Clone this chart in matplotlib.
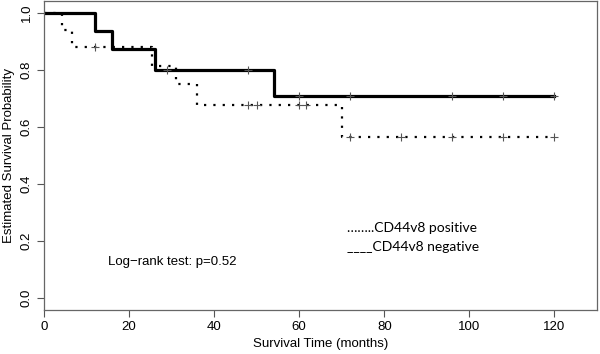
import numpy as np
import matplotlib
matplotlib.use("Agg")
import matplotlib.pyplot as plt

# Kaplan-Meier steps
neg_time = [0, 12, 16, 26, 54, 120]
neg_surv = [1.0, 0.9375, 0.875, 0.80, 0.71, 0.71]
neg_cens = [29, 48, 60, 72, 96, 108, 120]

pos_time = [0, 4.3, 6.6, 25.5, 31, 36, 70, 120]
pos_surv = [1.0, 0.94, 0.882, 0.815, 0.75, 0.677, 0.565, 0.565]
pos_cens = [12, 48, 50, 60, 61.5, 72, 84, 96, 108, 120]

xticks = [0, 20, 40, 60, 80, 100, 120]
yticks = [0.0, 0.2, 0.4, 0.6, 0.8, 1.0]


def surv_at(times, surv, t):
    i = np.searchsorted(times, t, side="right") - 1
    return surv[i]


plt.rcParams['font.family'] = ['Liberation Sans', 'DejaVu Sans']
fig = plt.figure(figsize=(6, 3.54), dpi=100)
ax = fig.add_axes([44/600, 1 - 310/354, 553/600, 309/354])

ax.step(pos_time, pos_surv, where="post", color="black", lw=1.6,
        linestyle=(0, (1, 3.2)))
ax.step(neg_time, neg_surv, where="post", color="black", lw=2.3)

ax.plot(neg_cens, [surv_at(neg_time, neg_surv, t) for t in neg_cens],
        "+", color="#555555", ms=6, mew=0.8)
ax.plot(pos_cens, [surv_at(pos_time, pos_surv, t) for t in pos_cens],
        "+", color="#555555", ms=6, mew=0.8)

ax.set_xlim(0, 130)
ax.set_ylim(-0.042, 1.042)
ax.set_xticks(xticks)
ax.set_yticks(yticks)
ax.set_yticklabels([f"{v:.1f}" for v in yticks], rotation=90, va="center")
ax.tick_params(labelsize=9.5, length=5, color="#555555", pad=3)
for s in ax.spines.values():
    s.set_color("#666666")
    s.set_linewidth(0.9)

ax.set_xlabel("Survival Time (months)", fontsize=9.5)
ax.set_ylabel("Estimated Survival Probability", fontsize=9.5)
ax.xaxis.set_label_coords(0.5, -0.092)
ax.yaxis.set_label_coords(-0.052, 0.5)

ax.text(15, 0.126, "Log\u2212rank test: p=0.52", fontsize=9.5, va="center")
ax.text(71.2, 0.245, "\u2026\u2026..CD44v8 positive", fontsize=10,
        family=['Lato', 'DejaVu Sans'], va="center")
ax.text(71.2, 0.178, "____CD44v8 negative", fontsize=10,
        family=['Lato', 'DejaVu Sans'], va="center")

fig.savefig("out.png", dpi=100)
